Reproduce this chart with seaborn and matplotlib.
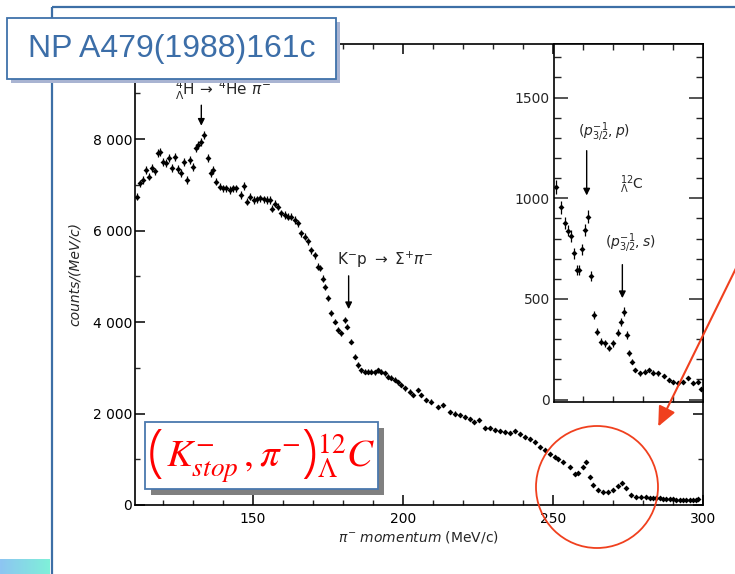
import numpy as np
import pandas as pd
import matplotlib
matplotlib.use("Agg")
import matplotlib.pyplot as plt
import seaborn as sns
from matplotlib.patches import Rectangle, Ellipse, FancyArrowPatch
from matplotlib.ticker import MultipleLocator, FixedLocator, FixedFormatter

# ---------------- data ----------------
momentum = [111.4, 112.3, 113.4, 114.6, 115.4, 116.6, 117.4, 118.6, 119.2, 120.1,
            121.2, 122.1, 123.0, 124.1, 125.2, 126.1, 127.1, 128.2, 129.1, 130.1,
            131.0, 131.9, 132.9, 133.9, 135.1, 136.2, 136.8, 137.9, 139.0, 140.1,
            141.2, 142.3, 143.4, 144.6, 146.0, 147.1, 148.1, 149.2, 150.3, 151.4,
            152.6, 153.7, 154.8, 155.9, 156.6, 157.3, 158.4, 159.6, 160.7, 161.8,
            162.9, 164.0, 165.1, 166.2, 167.3, 168.4, 169.6, 170.7, 171.8, 172.3,
            173.4, 174.0, 175.1, 176.2, 177.3, 178.4, 179.6, 180.7, 181.4, 182.9,
            184.0, 185.1, 186.2, 187.3, 188.4, 189.6, 190.7, 191.8, 192.9, 194.0,
            195.1, 196.2, 197.3, 198.4, 199.6, 200.7, 202.3, 203.4, 205.1, 206.2,
            207.9, 209.6, 211.8, 213.4, 215.7, 217.3, 219.0, 220.7, 222.3, 223.7,
            225.4, 227.3, 229.0, 230.7, 232.3, 234.0, 235.7, 237.3, 239.0, 240.7,
            242.3, 244.0, 245.7, 247.3, 249.0, 250.7, 251.8, 253.4, 255.7, 257.3,
            258.4, 260.1, 261.2, 262.3, 263.4, 265.1, 266.8, 268.4, 270.1, 271.8,
            273.2, 274.6, 276.2, 277.9, 279.6, 281.2, 282.3, 283.4, 284.6, 285.7,
            286.8, 287.9, 289.0, 290.1, 291.2, 292.3, 293.5, 294.6, 295.7, 296.8,
            297.9, 298.4]
counts = [6740, 7030, 7100, 7320, 7180, 7360, 7290, 7700, 7720, 7500,
          7470, 7580, 7360, 7600, 7340, 7260, 7500, 7100, 7540, 7390,
          7800, 7870, 7940, 8090, 7580, 7250, 7320, 7070, 6960, 6920,
          6920, 6885, 6920, 6920, 6780, 6970, 6630, 6740, 6670, 6680,
          6700, 6680, 6670, 6670, 6480, 6590, 6520, 6375, 6340, 6300,
          6300, 6230, 6160, 5940, 5860, 5760, 5570, 5460, 5210, 5180,
          4950, 4770, 4520, 4190, 4010, 3830, 3750, 4040, 3900, 3570,
          3240, 3060, 2950, 2910, 2910, 2910, 2900, 2950, 2910, 2880,
          2800, 2780, 2740, 2680, 2620, 2550, 2480, 2400, 2510, 2400,
          2300, 2260, 2150, 2190, 2040, 2000, 1970, 1930, 1890, 1820,
          1860, 1680, 1680, 1640, 1620, 1600, 1580, 1620, 1550, 1480,
          1440, 1380, 1270, 1200, 1120, 1040, 1010, 950, 820, 670,
          690, 820, 950, 620, 440, 330, 290, 290, 330, 415,
          475, 365, 220, 180, 170, 180, 160, 145, 150, 145,
          135, 130, 128, 125, 118, 110, 112, 110, 108, 110,
          115, 130]

inset_momentum = [250.9, 252.6, 254.0, 255.1, 255.9, 257.0, 257.9, 258.7, 259.7, 260.7,
                  261.7, 262.5, 263.5, 264.7, 265.9, 267.3, 268.7, 270.1, 271.5, 272.5,
                  273.6, 274.5, 275.4, 276.4, 277.4, 279.0, 280.6, 282.1, 283.4, 285.1,
                  287.0, 288.6, 290.1, 291.8, 293.4, 295.1, 296.8, 298.4, 299.3]
inset_counts = [1056, 955, 876, 839, 813, 727, 644, 644, 747, 843,
                909, 614, 420, 337, 288, 280, 255, 280, 332, 387,
                437, 321, 233, 188, 147, 131, 139, 147, 134, 131,
                117, 97, 89, 84, 89, 106, 81, 89, 51]

main_yticks = [0, 2000, 4000, 6000, 8000]
main_ytick_labels = ["0", "2 000", "4 000", "6 000", "8 000"]
main_xticks = [150, 200, 250, 300]
main_xtick_labels = ["150", "200", "250", "300"]
inset_yticks = [0, 500, 1000, 1500]
inset_ytick_labels = ["0", "500", "1000", "1500"]
inset_xticks = [260, 270, 280, 290]

main_df = pd.DataFrame({"momentum": momentum, "counts": counts})
inset_df = pd.DataFrame({"momentum": inset_momentum, "counts": inset_counts})

# ---------------- style ----------------
sns.set_style("ticks")
plt.rcParams['font.family'] = ['DejaVu Sans']
plt.rcParams['axes.linewidth'] = 1.2

W, H = 735, 574
fig = plt.figure(figsize=(W / 100, H / 100), dpi=100)


def fa(x0, y0, x1, y1):
    return [x0 / W, 1 - y1 / H, (x1 - x0) / W, (y1 - y0) / H]


# ---------------- main axes ----------------
ax = fig.add_axes(fa(135, 44, 702.7, 505))
ax.errorbar(main_df["momentum"], main_df["counts"], yerr=np.sqrt(main_df["counts"]),
            xerr=0.45, fmt='none', ecolor='black', elinewidth=0.9, capsize=0, zorder=2)
sns.scatterplot(data=main_df, x="momentum", y="counts", ax=ax, color='black',
                s=9, marker='D', linewidth=0, zorder=3)
ax.set_xlim(110.8, 300.0)
ax.set_ylim(0, 10077)
ax.xaxis.set_major_locator(FixedLocator(main_xticks))
ax.xaxis.set_major_formatter(FixedFormatter(main_xtick_labels))
ax.xaxis.set_minor_locator(MultipleLocator(10))
ax.yaxis.set_major_locator(FixedLocator(main_yticks))
ax.yaxis.set_major_formatter(FixedFormatter(main_ytick_labels))
ax.yaxis.set_minor_locator(MultipleLocator(1000))
ax.tick_params(which='major', direction='in', length=7, width=1.1, top=True, right=True,
               labelsize=10, colors='black')
ax.tick_params(which='minor', direction='in', length=3.5, width=1.0, top=True, right=True)
ax.tick_params(axis='x', which='major', pad=5)
ax.tick_params(axis='y', which='major', pad=2)
ax.set_xlabel(r"$\pi^{-}$ $\mathit{momentum}$ (MeV/c)", fontsize=10, labelpad=2)
ax.set_ylabel("counts/(MeV/c)", fontsize=10, style='italic', labelpad=8)
for s in ax.spines.values():
    s.set_color('black')

ax.text(140.0, 9070, r"$^{4}_{\Lambda}$H$\,\rightarrow\,^{4}$He $\pi^{-}$",
        ha='center', va='center', fontsize=11)
ax.annotate('', xy=(132.9, 8230), xytext=(132.9, 8800),
            arrowprops=dict(arrowstyle='-|>', color='black', lw=1.0, mutation_scale=10))
ax.text(178.2, 5355, r"K$^{-}$p $\rightarrow$ $\Sigma^{+}\pi^{-}$",
        ha='left', va='center', fontsize=11)
ax.annotate('', xy=(182.0, 4220), xytext=(182.0, 5070),
            arrowprops=dict(arrowstyle='-|>', color='black', lw=1.0, mutation_scale=10))

# ---------------- inset ----------------
axi = fig.add_axes(fa(554, 44, 703, 402))
axi.set_facecolor('white')
axi.errorbar(inset_df["momentum"], inset_df["counts"], yerr=np.sqrt(inset_df["counts"]),
             xerr=0.4, fmt='none', ecolor='black', elinewidth=0.9, capsize=0, zorder=2)
sns.scatterplot(data=inset_df, x="momentum", y="counts", ax=axi, color='black',
                s=9, marker='D', linewidth=0, zorder=3)
axi.set_xlim(250.3, 300.0)
axi.set_ylim(-12, 1766)
axi.xaxis.set_major_locator(FixedLocator(inset_xticks))
axi.xaxis.set_major_formatter(FixedFormatter([""] * len(inset_xticks)))
axi.yaxis.set_major_locator(FixedLocator(inset_yticks))
axi.yaxis.set_major_formatter(FixedFormatter(inset_ytick_labels))
axi.yaxis.set_minor_locator(MultipleLocator(100))
axi.tick_params(axis='y', which='major', direction='in', length=10, width=1.1,
                right=True, labelsize=10, pad=3)
axi.tick_params(axis='y', which='minor', direction='in', length=5, width=1.0, right=True)
axi.tick_params(axis='x', which='major', direction='in', length=4.5, width=1.0, top=True)
axi.set_xlabel("")
axi.set_ylabel("")
for s in axi.spines.values():
    s.set_color('black')

axi.text(267.1, 1329, r"$(p^{-1}_{3/2},p)$", ha='center', va='center', fontsize=10)
axi.annotate('', xy=(261.2, 1000), xytext=(261.2, 1250),
             arrowprops=dict(arrowstyle='-|>', color='black', lw=1.0, mutation_scale=10))
axi.text(276.3, 1065, r"$^{12}_{\Lambda}$C", ha='center', va='center', fontsize=10)
axi.text(275.6, 778, r"$(p^{-1}_{3/2},s)$", ha='center', va='center', fontsize=10)
axi.annotate('', xy=(273.1, 490), xytext=(273.1, 684),
             arrowprops=dict(arrowstyle='-|>', color='black', lw=1.0, mutation_scale=10))

# ---------------- slide overlay ----------------
ov = fig.add_axes([0, 0, 1, 1], zorder=10)
ov.patch.set_alpha(0)
ov.axis('off')

c0 = np.array([0x8D, 0xC5, 0xF2]) / 255
c1 = np.array([0x7F, 0xF0, 0xD9]) / 255
grad = np.linspace(0, 1, 50)[None, :, None]
grad_img = c0[None, None, :] * (1 - grad) + c1[None, None, :] * grad
ov.imshow(grad_img, extent=[0, 50, 574, 559], aspect='auto', zorder=1)

blue = '#3D6FA6'
ov.plot([52.5, 52.5], [6.5, 574], color=blue, lw=1.6, solid_capstyle='butt', zorder=2)
ov.plot([52.5, 735], [6.5, 6.5], color=blue, lw=1.6, solid_capstyle='butt', zorder=2)

ov.add_patch(Rectangle((11, 22), 329, 61, facecolor='#A9B4D2', edgecolor='none', zorder=3))
ov.add_patch(Rectangle((7, 18), 329, 61, facecolor='white', edgecolor='#3F72AA', lw=1.3, zorder=4))
ov.text(171.5, 49, "NP A479(1988)161c", ha='center', va='center', fontsize=23,
        family='Liberation Sans', color='#3C6EA8', zorder=5)

ov.add_patch(Rectangle((151, 428), 233, 67, facecolor='#808080', edgecolor='none', zorder=3))
ov.add_patch(Rectangle((145, 422), 233, 67, facecolor='white', edgecolor='#4A78AE', lw=1.3, zorder=4))
fred = '#FF0000'
ov.text(148, 470, "(", ha='left', va='baseline', fontsize=41, family='Open Sans',
        fontweight='light', color=fred, zorder=5)
ov.text(166, 467, r"$K^{-}_{stop}\,,\pi^{-}$", ha='left', va='baseline', fontsize=28,
        color=fred, math_fontfamily='stix', zorder=5)
ov.text(301, 470, ")", ha='left', va='baseline', fontsize=41, family='Open Sans',
        fontweight='light', color=fred, zorder=5)
ov.text(317, 467, r"$^{12}_{\Lambda}C$", ha='left', va='baseline', fontsize=28,
        color=fred, math_fontfamily='stix', zorder=5)

red = '#F0401E'
ov.add_patch(Ellipse((597, 487), 122, 122, fill=False, edgecolor=red, lw=1.3, zorder=5))
ov.add_patch(FancyArrowPatch((742, 256), (657, 429), arrowstyle='-|>,head_length=1.0,head_width=0.45',
                             mutation_scale=12, color=red, lw=1.5, zorder=5))

ov.set_xlim(0, W)
ov.set_ylim(H, 0)

fig.savefig("out.png", dpi=100)
